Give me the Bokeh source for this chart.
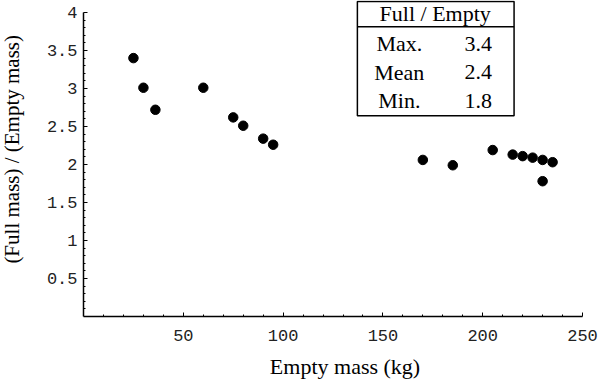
import math
from bokeh.plotting import figure
from bokeh.models import FixedTicker, Label, Range1d, ColumnDataSource
from bokeh.core.properties import value
from bokeh.embed import file_html
from bokeh.resources import INLINE

# ---- data ----
EMPTY_MASS = [25, 30, 36, 60, 75, 80, 90, 95, 170, 185, 205, 215, 220, 225, 230, 235, 230]
RATIO = [3.40, 3.01, 2.72, 3.01, 2.62, 2.51, 2.34, 2.26, 2.06, 1.99, 2.19, 2.13, 2.11, 2.09, 2.06, 2.03, 1.78]

X_TICKS = [50, 100, 150, 200, 250]
X_TICK_LABELS = ["50", "100", "150", "200", "250"]
Y_TICKS = [0.5, 1, 1.5, 2, 2.5, 3, 3.5, 4]
Y_TICK_LABELS = ["0.5", "1", "1.5", "2", "2.5", "3", "3.5", "4"]

TABLE_TITLE = "Full / Empty"
TABLE_ROW_NAMES = ["Max.", "Mean", "Min."]
TABLE_ROW_VALUES = ["3.4", "2.4", "1.8"]

X_LABEL = "Empty mass (kg)"
Y_LABEL = "(Full mass) / (Empty mass)"

SERIF = "Liberation Serif"
MONO = "Liberation Mono"

p = figure(width=599, height=383, output_backend="svg", toolbar_location=None,
           x_range=Range1d(-41.6, 258.5), y_range=Range1d(-0.882, 4.158),
           min_border_left=0, min_border_right=0, min_border_top=0, min_border_bottom=0)
p.outline_line_color = None
p.xgrid.visible = False
p.ygrid.visible = False
p.background_fill_color = "white"
p.border_fill_color = "white"

for ax in (p.xaxis[0], p.yaxis[0]):
    ax.fixed_location = 0
    ax.axis_line_width = 1.5
    ax.axis_line_color = "black"
    ax.major_tick_in = 4
    ax.major_tick_out = 0
    ax.minor_tick_in = 2
    ax.minor_tick_out = 0
    ax.major_tick_line_color = "black"
    ax.minor_tick_line_color = "black"
    ax.major_label_text_font = MONO
    ax.major_label_text_font_size = "17px"
    ax.major_label_text_color = "#222222"

p.xaxis[0].bounds = (0, 250)
p.yaxis[0].bounds = (0, 4)
p.xaxis[0].ticker = FixedTicker(ticks=X_TICKS, minor_ticks=list(range(10, 250, 10)))
p.yaxis[0].ticker = FixedTicker(ticks=Y_TICKS, minor_ticks=[round(0.1 * i, 1) for i in range(1, 40)])
p.xaxis[0].major_label_overrides = {t: s for t, s in zip(X_TICKS, X_TICK_LABELS)}
p.yaxis[0].major_label_overrides = {t: s for t, s in zip(Y_TICKS, Y_TICK_LABELS)}
p.xaxis[0].major_label_standoff = 14
p.yaxis[0].major_label_standoff = 6

# points
src = ColumnDataSource(data=dict(x=EMPTY_MASS, y=RATIO))
p.scatter("x", "y", source=src, size=9.5, color="black")

# axis labels
p.add_layout(Label(x=131, y=-0.66, text=X_LABEL, text_font=SERIF, text_font_size="22px",
                   text_align="center", text_baseline="middle", text_color="black"))
p.add_layout(Label(x=-36, y=2.2, text=Y_LABEL, text_font=SERIF, text_font_size="21px",
                   angle=math.pi / 2, text_align="center", text_baseline="middle", text_color="black"))

# table
p.quad(left=[137.2], right=[215.7], top=[4.145], bottom=[2.641],
       fill_color=None, line_color="black", line_width=1.5)
p.segment(x0=[137.2], x1=[215.7], y0=[3.812], y1=[3.812], line_color="black", line_width=1.5)
p.text(x=[176.2], y=[3.987], text=[TABLE_TITLE], text_font=value(SERIF), text_font_size="22px",
       text_align="center", text_baseline="middle", text_color="black")
row_y = [3.592, 3.211, 2.842]
p.text(x=[158.2] * 3, y=row_y, text=TABLE_ROW_NAMES, text_font=value(SERIF), text_font_size="22px",
       text_align="center", text_baseline="middle", text_color="black")
p.text(x=[197.8] * 3, y=row_y, text=TABLE_ROW_VALUES, text_font=value(SERIF), text_font_size="22px",
       text_align="center", text_baseline="middle", text_color="black")

open("out.html", "w").write(file_html(p, INLINE))
